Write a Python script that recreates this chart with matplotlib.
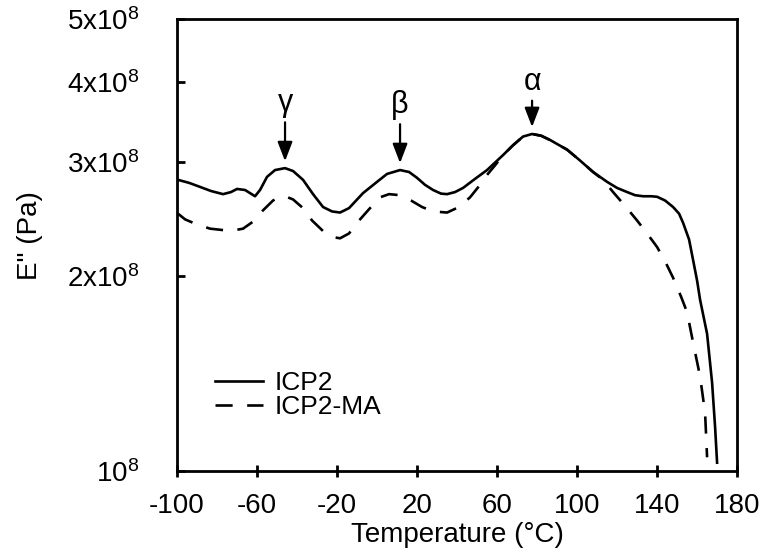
import numpy as np
import matplotlib
matplotlib.use("Agg")
import matplotlib.pyplot as plt

plt.rcParams['font.family'] = ['Liberation Sans', 'DejaVu Sans']
plt.rcParams['mathtext.fontset'] = 'custom'
plt.rcParams['mathtext.rm'] = 'Liberation Sans'
plt.rcParams['axes.unicode_minus'] = False

# E'' vs temperature, ICP2 (solid) and ICP2-MA (dashed)
temp_icp2 = [-99.5, -94, -88.5, -83, -77, -73, -70, -66, -63.5, -61, -58.5, -55, -51, -46, -42,
             -37, -32, -27, -22.5, -18.5, -14, -7, 0, 5, 11.5, 16, 20, 24, 28, 32, 35, 39, 43,
             49, 55, 63, 68, 73, 77.5, 82, 86.5, 95, 101, 108, 115, 120, 125, 129, 133, 137,
             140, 144, 148, 151, 153, 156, 158, 160, 161.5, 165, 167.5, 169, 170]
e_icp2 = [2.82, 2.79, 2.75, 2.71, 2.68, 2.70, 2.73, 2.72, 2.69, 2.66, 2.72, 2.85, 2.92, 2.94,
          2.91, 2.82, 2.68, 2.56, 2.52, 2.51, 2.55, 2.69, 2.80, 2.88, 2.92, 2.90, 2.84, 2.77,
          2.72, 2.685, 2.68, 2.70, 2.74, 2.83, 2.92, 3.08, 3.19, 3.29, 3.32, 3.30, 3.25, 3.14,
          3.03, 2.90, 2.80, 2.74, 2.70, 2.67, 2.66, 2.66, 2.655, 2.62, 2.56, 2.50, 2.42, 2.28,
          2.12, 1.97, 1.84, 1.63, 1.37, 1.17, 1.03]

temp_ma = [-99.5, -96, -92, -87, -83.5, -78, -73.5, -67, -62, -57, -52, -49, -46, -42, -37,
           -32.5, -27, -22, -18.5, -14, -10, -4, 1.5, 6, 11.5, 17, 22.5, 28, 35, 41, 46.5,
           51.5, 55, 59, 63, 68, 73, 77.5, 82, 86.5, 95, 101, 108, 113, 118, 124, 130, 135,
           140, 144, 148, 152, 155, 158, 161.5, 164, 165]
e_ma = [2.50, 2.45, 2.42, 2.39, 2.37, 2.36, 2.35, 2.37, 2.43, 2.53, 2.62, 2.65, 2.66, 2.63,
        2.55, 2.44, 2.35, 2.30, 2.29, 2.33, 2.42, 2.54, 2.65, 2.68, 2.67, 2.62, 2.56, 2.52,
        2.51, 2.56, 2.65, 2.77, 2.87, 2.97, 3.08, 3.19, 3.29, 3.32, 3.30, 3.25, 3.14, 3.03,
        2.90, 2.82, 2.70, 2.57, 2.44, 2.33, 2.22, 2.11, 1.99, 1.86, 1.76, 1.58, 1.40, 1.23,
        1.05]

peak_names = ['γ', 'β', 'α']
peak_temp = [-46, 11.5, 77.5]
peak_e = [2.94, 2.92, 3.32]

xticks = [-100, -60, -20, 20, 60, 100, 140, 180]
yticks = [1e8, 2e8, 3e8, 4e8, 5e8]
ytick_labels = [r'$\mathregular{10^8}$', r'$\mathregular{2x10^8}$', r'$\mathregular{3x10^8}$',
                r'$\mathregular{4x10^8}$', r'$\mathregular{5x10^8}$']

fig = plt.figure(figsize=(7.67, 5.51), dpi=100)
ax = fig.add_axes([0.2308, 0.1452, 0.7302, 0.8203])

ax.plot(temp_icp2, np.array(e_icp2) * 1e8, color='k', lw=1.9, label='ICP2')
ax.plot(temp_ma, np.array(e_ma) * 1e8, color='k', lw=1.9, dashes=(6.5, 5.5), label='ICP2-MA')

ax.set_yscale('log')
ax.set_xlim(-100, 180)
ax.set_ylim(1e8, 5e8)
ax.set_xticks(xticks)
ax.set_yticks(yticks)
ax.set_yticklabels(ytick_labels)
ax.yaxis.set_minor_locator(matplotlib.ticker.NullLocator())

for s in ax.spines.values():
    s.set_linewidth(2)
ax.tick_params(axis='x', direction='inout', length=9, width=2, labelsize=20, pad=11)
ax.tick_params(axis='y', direction='in', length=6, width=2, labelsize=20, pad=27)

ax.set_xlabel('Temperature (°C)', fontsize=20)
ax.xaxis.set_label_coords(0.5, -0.113)
ax.set_ylabel('E" (Pa)', fontsize=20)
ax.yaxis.set_label_coords(-0.24, 0.52)

# relaxation peaks
for name, t, e in zip(peak_names, peak_temp, peak_e):
    tail = 24 if name == 'α' else 33
    ax.annotate('', xy=(t, e * 1e8), xytext=(0, tail), textcoords='offset points',
                arrowprops=dict(arrowstyle='-|>,head_length=0.65,head_width=0.25', color='k',
                                lw=1.6, shrinkA=0, shrinkB=5, mutation_scale=18))
    ax.annotate(name, xy=(t, e * 1e8), xytext=(0, tail + 3), textcoords='offset points',
                ha='center', va='bottom', fontsize=22)

ax.legend(loc='upper left', bbox_to_anchor=(0.045, 0.25), frameon=False, fontsize=19,
          handlelength=1.8, handletextpad=0.45, labelspacing=0.0, borderpad=0)

fig.savefig('out.png', dpi=100)
